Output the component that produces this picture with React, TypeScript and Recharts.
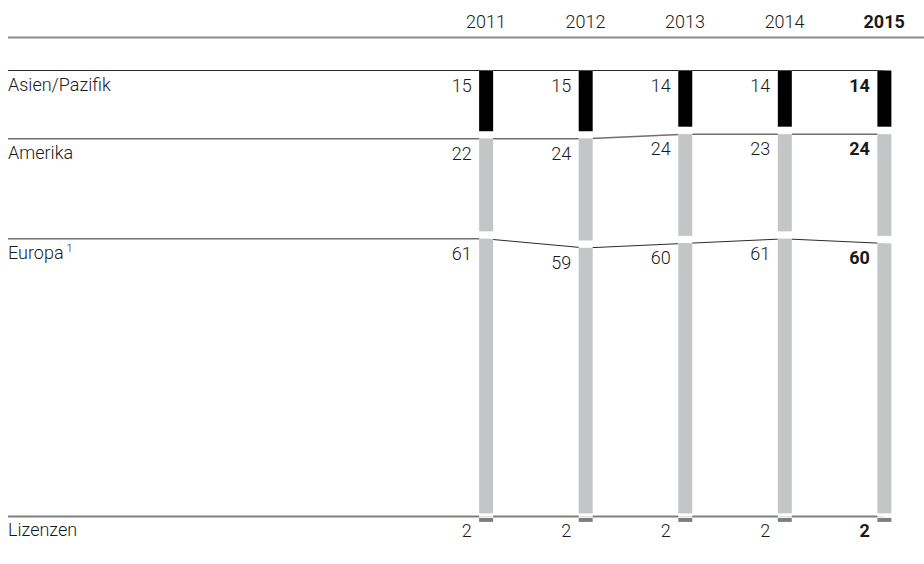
import React from 'react';
import { ComposedChart, Bar, Line, XAxis, YAxis, LabelList } from 'recharts';

// ---- data ----
const years = [2011, 2012, 2013, 2014, 2015];
const asien = [15, 15, 14, 14, 14];
const amerika = [22, 24, 24, 23, 24];
const europa = [61, 59, 60, 61, 60];
const lizenzen = [2, 2, 2, 2, 2];
const seriesKeys = ['asien', 'amerika', 'europa', 'lizenzen'];
const seriesNames = ['Asien/Pazifik', 'Amerika', 'Europa', 'Lizenzen'];
const footnotes = ['', '', '1', ''];
const highlightYear = 2015;

// x-axis domain (left end used for the row rules that start at the label column)
const X_START = 2006.2;
const X_END = 2015.4;

const seriesValues = [asien, amerika, europa, lizenzen];
const data = years.map((year, i) => ({
  year,
  asien: asien[i],
  amerika: amerika[i],
  europa: europa[i],
  lizenzen: lizenzen[i],
}));
// top of each segment (cumulative value above it)
const boundaries = seriesValues.map((_, s) =>
  years.map((_, i) => seriesValues.slice(0, s).reduce((acc, arr) => acc + arr[i], 0))
);
const lineData = boundaries.map((b) => [
  { year: X_START, top: b[0] },
  ...years.map((y, i) => ({ year: y, top: b[i] })),
]);

// ---- styles ----
const FONT = 'Roboto, "Liberation Sans", Arial, sans-serif';
const TEXT = '#1a1a1a';
const FILL = ['#000000', '#c4c5c7', '#c4c5c7', '#7d7e80'];
const GAP_BOTTOM = [7.5, 7.5, 3, 0];
const LINE_STROKE = ['#2a2a2a', '#6f6f6f', '#2a2a2a', '#7f7f7f'];
const LINE_WIDTH = [1, 1.5, 1, 2];

const makeShape = (s: number) => (props: any) => {
  const { x, y, width, height, payload } = props;
  const top = Math.min(y, y + height);
  const h = Math.abs(height);
  const bold = payload.year === highlightYear;
  const inner =
    s === 3 ? (
      <rect x={x} y={top + 1.5} width={width} height={Math.min(4, h)} fill={FILL[s]} />
    ) : (
      <rect x={x} y={top} width={width} height={Math.max(0, h - GAP_BOTTOM[s])} fill={FILL[s]} />
    );
  return (
    <g>
      <rect x={x} y={top} width={width} height={h} fill="#ffffff" />
      {inner}
      <text
        x={x - 7.5}
        y={top + 21}
        textAnchor="end"
        fontFamily={FONT}
        fontSize={18}
        fontWeight={bold ? 700 : 300}
        fill={TEXT}
      >
        {payload[seriesKeys[s]]}
      </text>
    </g>
  );
};

const makeLeftLabel = (s: number) => (props: any) => {
  const { index } = props;
  if (index !== 0) return null;
  const x = props.x ?? props.viewBox?.x;
  const y = props.y ?? props.viewBox?.y;
  return (
    <text x={x} y={y + 20} textAnchor="start" fontFamily={FONT} fontSize={18} fontWeight={300} fill={TEXT}>
      {seriesNames[s]}
      {footnotes[s] ? (
        <tspan dx={3} dy={-7} fontSize={11}>
          {footnotes[s]}
        </tspan>
      ) : null}
    </text>
  );
};

const YearTick = (props: any) => {
  const { x, y, payload } = props;
  const bold = payload.value === highlightYear;
  return (
    <text
      x={x}
      y={y}
      dy={-10}
      textAnchor="middle"
      fontFamily={FONT}
      fontSize={18}
      fontWeight={bold ? 700 : 300}
      fill={TEXT}
    >
      {payload.value}
    </text>
  );
};

export default function App() {
  return (
    <div style={{ position: 'absolute', left: 0, top: 0, width: 924, height: 564, background: '#fff' }}>
      <ComposedChart
        width={924}
        height={564}
        data={data}
        margin={{ top: 7.5, right: 0, bottom: 38.5, left: 8 }}
      >
        <XAxis
          type="number"
          dataKey="year"
          orientation="top"
          domain={[X_START, X_END]}
          allowDataOverflow
          ticks={years}
          interval={0}
          height={30}
          tickLine={false}
          tickSize={0}
          tickMargin={0}
          axisLine={{ stroke: '#8c8c8c', strokeWidth: 2 }}
          tick={<YearTick />}
        />
        <YAxis type="number" domain={[0, 100]} reversed hide padding={{ top: 33, bottom: 0 }} />
        {lineData.map((ld, s) => (
          <Line
            key={'l' + s}
            data={ld}
            dataKey="top"
            type="linear"
            stroke={LINE_STROKE[s]}
            strokeWidth={LINE_WIDTH[s]}
            dot={false}
            activeDot={false}
            isAnimationActive={false}
            zIndex={150}
          >
            <LabelList dataKey="top" content={makeLeftLabel(s)} />
          </Line>
        ))}
        {seriesKeys.map((k, s) => (
          <Bar
            key={k}
            dataKey={k}
            stackId="a"
            barSize={14}
            isAnimationActive={false}
            shape={makeShape(s)}
          />
        ))}
      </ComposedChart>
    </div>
  );
}
